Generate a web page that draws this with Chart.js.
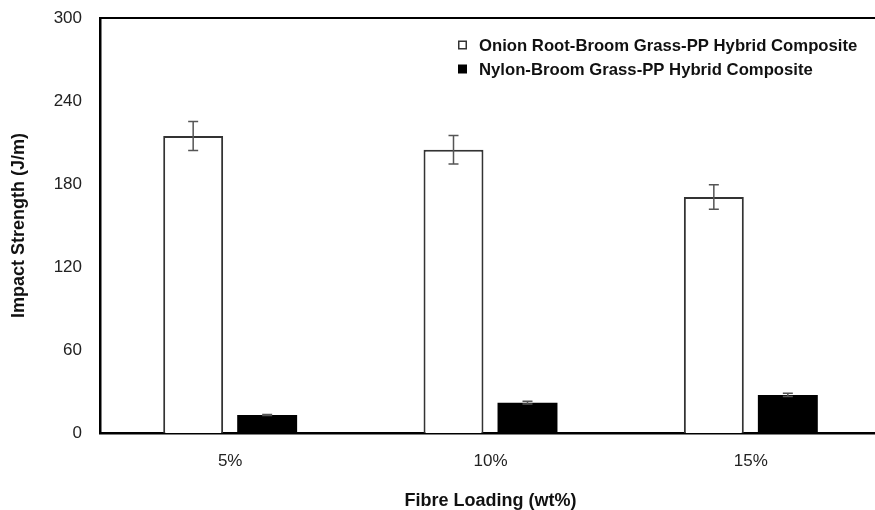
<!DOCTYPE html>
<html>
<head>
<meta charset="utf-8">
<script src="https://cdn.jsdelivr.net/npm/chart.js@4/dist/chart.umd.min.js"></script>
<style>
  html, body { margin: 0; padding: 0; background: #fff; overflow: hidden; }
  canvas { display: block; }
</style>
</head>
<body>
<canvas id="impactChart" width="882" height="510"></canvas>
<script>
const loadings = ['5%', '10%', '15%'];
const onionRoot = [214.7, 204.8, 170.6];
const onionRootErr = [10.5, 10.3, 8.8];
const nylon = [13, 21.9, 27.5];
const nylonErr = [0.3, 1.0, 1.2];
const yTicks = [0, 60, 120, 180, 240, 300];

const errors = [onionRootErr, nylonErr];

// error bars, plot frame top line and the legend inside the plot
const extras = {
  id: 'extras',
  afterDatasetsDraw(chart) {
    const ctx = chart.ctx;
    const y = chart.scales.y;
    ctx.save();
    ctx.strokeStyle = '#555';
    ctx.lineWidth = 1.5;
    chart.data.datasets.forEach((ds, i) => {
      const meta = chart.getDatasetMeta(i);
      meta.data.forEach((bar, j) => {
        const v = ds.data[j];
        const e = errors[i][j];
        const top = y.getPixelForValue(v + e);
        const bot = y.getPixelForValue(v - e);
        ctx.beginPath();
        ctx.moveTo(bar.x, top);
        ctx.lineTo(bar.x, bot);
        ctx.moveTo(bar.x - 5, top);
        ctx.lineTo(bar.x + 5, top);
        ctx.moveTo(bar.x - 5, bot);
        ctx.lineTo(bar.x + 5, bot);
        ctx.stroke();
      });
    });
    ctx.restore();
  },
  afterDraw(chart) {
    const ctx = chart.ctx;
    const a = chart.chartArea;
    ctx.save();
    ctx.strokeStyle = '#000';
    ctx.lineWidth = 2;
    ctx.beginPath();
    ctx.moveTo(a.left - 1, a.top);
    ctx.lineTo(a.right, a.top);
    ctx.stroke();

    ctx.font = 'bold 16.7px "Liberation Sans", Arial, sans-serif';
    ctx.textBaseline = 'middle';
    const rows = [a.top + 27, a.top + 51];
    chart.data.datasets.forEach((ds, i) => {
      const cy = rows[i];
      const bx = a.right - 423;
      if (i === 0) {
        ctx.fillStyle = '#fff';
        ctx.fillRect(bx, cy - 4.5, 9, 9);
        ctx.strokeStyle = '#333';
        ctx.lineWidth = 1.5;
        ctx.strokeRect(bx + 0.75, cy - 3.75, 7.5, 7.5);
      } else {
        ctx.fillStyle = '#000';
        ctx.fillRect(bx, cy - 4.5, 9, 9);
      }
      ctx.fillStyle = '#111';
      ctx.fillText(ds.label, a.right - 402, cy + 1);
    });
    ctx.restore();
  }
};

new Chart(document.getElementById('impactChart'), {
  type: 'bar',
  data: {
    labels: loadings,
    datasets: [
      {
        label: 'Onion Root-Broom Grass-PP Hybrid Composite',
        data: onionRoot,
        backgroundColor: '#fff',
        borderColor: '#333',
        borderWidth: 2,
        borderSkipped: 'bottom'
      },
      {
        label: 'Nylon-Broom Grass-PP Hybrid Composite',
        data: nylon,
        backgroundColor: '#000',
        borderColor: '#000',
        borderWidth: 0
      }
    ]
  },
  options: {
    responsive: false,
    animation: false,
    devicePixelRatio: 1,
    categoryPercentage: 0.5685,
    barPercentage: 0.81,
    layout: { padding: { top: 18, right: 1, left: 0, bottom: 0 } },
    plugins: {
      legend: { display: false },
      tooltip: { enabled: false }
    },
    scales: {
      x: {
        grid: { display: false, drawTicks: false },
        border: { display: true, color: '#000', width: 2.5 },
        ticks: {
          padding: 18,
          color: '#222',
          font: { family: '"Liberation Sans", Arial, sans-serif', size: 17 }
        },
        title: {
          display: true,
          text: 'Fibre Loading (wt%)',
          color: '#111',
          padding: { top: 0, bottom: -2 },
          font: { family: '"Liberation Sans", Arial, sans-serif', size: 18, weight: 'bold' }
        },
        afterFit(scale) { scale.height = 77; }
      },
      y: {
        min: 0,
        max: 300,
        afterBuildTicks(scale) { scale.ticks = yTicks.map(v => ({ value: v })); },
        grid: { display: false, drawTicks: false },
        border: { display: true, color: '#000', width: 2.5 },
        ticks: {
          padding: 18,
          color: '#222',
          font: { family: '"Liberation Sans", Arial, sans-serif', size: 17 }
        },
        title: {
          display: true,
          text: 'Impact Strength (J/m)',
          color: '#111',
          padding: { top: 8, bottom: 0 },
          font: { family: '"Liberation Sans", Arial, sans-serif', size: 18, weight: 'bold' }
        },
        afterFit(scale) {
          scale.width = 100;
          scale.paddingTop = 0;
          scale.paddingBottom = 0;
        }
      }
    }
  },
  plugins: [extras]
});
</script>
</body>
</html>
